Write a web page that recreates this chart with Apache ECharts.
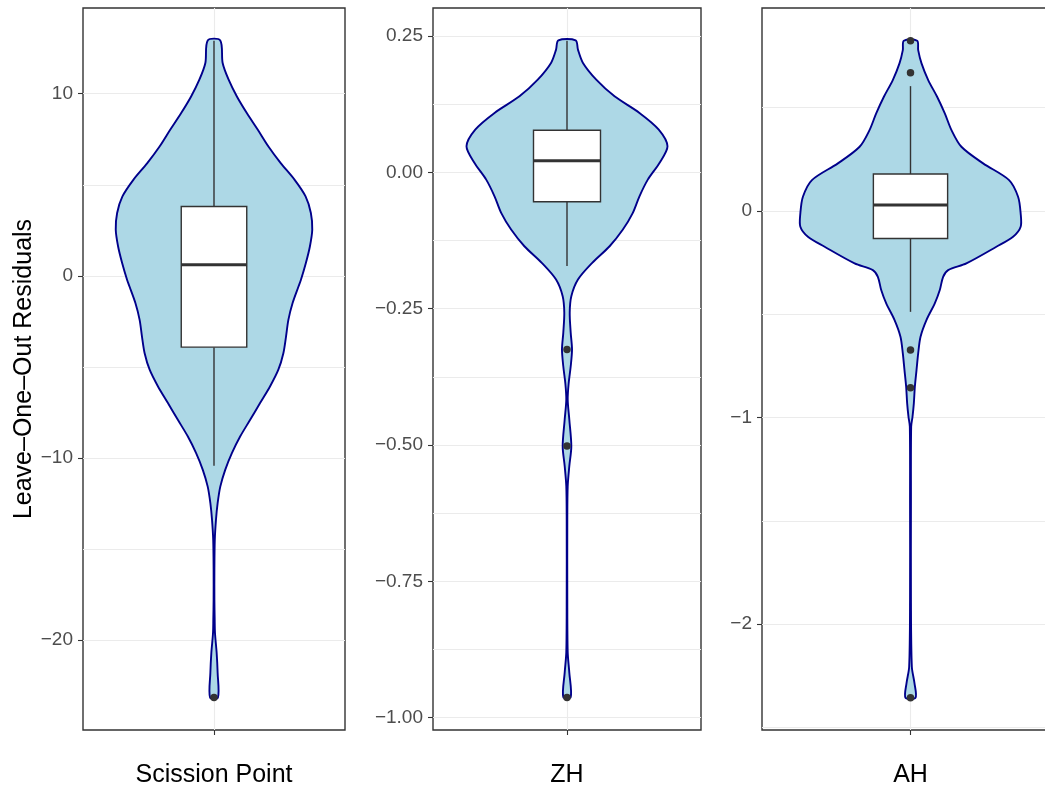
<!DOCTYPE html>
<html>
<head>
<meta charset="utf-8">
<script src="https://cdn.jsdelivr.net/npm/echarts@6/dist/echarts.min.js"></script>
<style>
  html, body { margin: 0; padding: 0; background: #fff; }
  #chart { width: 1045px; height: 786px; }
</style>
</head>
<body>
<div id="chart"></div>
<script>
// categories, one panel each
const categories = ['Scission Point', 'ZH', 'AH'];

// violin outlines: [residual, relative density (max = 1)]
const violinScission = [
  [12.93, 0.064], [11.69, 0.088], [10.77, 0.149], [9.85, 0.233], [8.94, 0.334],
  [8.02, 0.446], [7.10, 0.554], [6.19, 0.679], [5.27, 0.821], [4.36, 0.932],
  [3.45, 0.986], [2.53, 1.0], [1.61, 0.976], [0.70, 0.935], [-0.22, 0.885],
  [-0.59, 0.860], [-1.50, 0.800], [-2.42, 0.757], [-3.34, 0.733], [-4.25, 0.706],
  [-5.16, 0.655], [-6.08, 0.570], [-6.99, 0.469], [-7.91, 0.368], [-8.83, 0.266],
  [-9.74, 0.182], [-10.66, 0.114], [-11.58, 0.064], [-12.49, 0.037], [-13.41, 0.020],
  [-14.51, 0.008], [-16.15, 0.004], [-17.80, 0.004], [-18.90, 0.007], [-19.62, 0.010],
  [-20.71, 0.027], [-21.81, 0.037], [-23.17, 0.040]
];
const violinZH = [
  [0.2419, 0.086], [0.2249, 0.109], [0.2005, 0.159], [0.1699, 0.291], [0.1393, 0.473],
  [0.1089, 0.721], [0.0783, 0.913], [0.0477, 1.0], [0.0172, 0.920], [-0.0134, 0.804],
  [-0.0440, 0.721], [-0.0744, 0.655], [-0.1050, 0.556], [-0.1356, 0.424], [-0.1661, 0.251],
  [-0.1967, 0.109], [-0.2273, 0.043], [-0.2577, 0.027], [-0.2944, 0.037], [-0.3250, 0.050],
  [-0.3556, 0.037], [-0.3860, 0.017], [-0.4166, 0.007], [-0.4533, 0.023], [-0.5022, 0.043],
  [-0.5389, 0.023], [-0.5755, 0.007], [-0.6366, 0.003], [-0.7832, 0.003], [-0.8803, 0.007],
  [-0.9175, 0.023], [-0.9622, 0.037]
];
const violinAH = [
  [0.8224, 0.060], [0.7775, 0.069], [0.7131, 0.099], [0.6324, 0.159], [0.5515, 0.239],
  [0.4712, 0.308], [0.3904, 0.368], [0.3096, 0.457], [0.2293, 0.652], [0.1485, 0.885],
  [0.0677, 0.966], [-0.0126, 0.989], [-0.0774, 0.989], [-0.1258, 0.921], [-0.1742, 0.771],
  [-0.2545, 0.502], [-0.2869, 0.338], [-0.3193, 0.293], [-0.3836, 0.263], [-0.4480, 0.218],
  [-0.5288, 0.143], [-0.6096, 0.090], [-0.6899, 0.069], [-0.7707, 0.054], [-0.8515, 0.039],
  [-0.9318, 0.030], [-0.9966, 0.018], [-1.0450, 0.006], [-1.3996, 0.004], [-1.8834, 0.004],
  [-2.2061, 0.012], [-2.2864, 0.036], [-2.3561, 0.045]
];

// box stats: [lower whisker, q1, median, q3, upper whisker]
const boxScission = [-10.44, -3.92, 0.60, 3.81, 12.91];
const boxZH = [-0.172, -0.054, 0.0214, 0.077, 0.2414];
const boxAH = [-0.489, -0.134, 0.0276, 0.178, 0.603];

// outliers
const outScission = [-23.17];
const outZH = [-0.325, -0.502, -0.963];
const outAH = [0.823, 0.668, -0.674, -0.856, -2.356];

// y ranges and ticks
const yMin = [-24.95, -1.0226, -2.512];
const yMax = [14.71, 0.3013, 0.981];
const majorTicks = [
  [-20, -10, 0, 10],
  [-1, -0.75, -0.5, -0.25, 0, 0.25],
  [-2, -1, 0]
];
const minorTicks = [
  [-15, -5, 5],
  [-0.875, -0.625, -0.375, -0.125, 0.125],
  [-2.5, -1.5, -0.5, 0.5]
];
const labelDigits = [0, 2, 0];

const violins = [violinScission, violinZH, violinAH];
const boxes = [boxScission, boxZH, boxAH];
const outliers = [outScission, outZH, outAH];

const HALF_VIOLIN = 0.45; // violin width 0.9
const HALF_BOX = 0.15;    // box width 0.3

const grids = [
  { left: 83, top: 8, width: 262, height: 722 },
  { left: 433, top: 8, width: 268, height: 722 },
  { left: 762, top: 8, width: 297, height: 722 }
];

function violinRender(profile) {
  return function (params, api) {
    if (params.dataIndex !== 0) return;
    let left = [], right = [];
    profile.forEach(p => {
      left.push(api.coord([-HALF_VIOLIN * p[1], p[0]]));
      right.push(api.coord([HALF_VIOLIN * p[1], p[0]]));
    });
    // left side down, then right side back up
    return {
      type: 'polygon',
      shape: { points: left.concat(right.slice().reverse()), smooth: 0.3 },
      style: { fill: '#ADD8E6', stroke: '#00008B', lineWidth: 1.9 }
    };
  };
}

function boxRender(params, api) {
  const lo = api.value(0), q1 = api.value(1), med = api.value(2), q3 = api.value(3), hi = api.value(4);
  const pLo = api.coord([0, lo]), pHi = api.coord([0, hi]);
  const a = api.coord([-HALF_BOX, q3]), b = api.coord([HALF_BOX, q1]);
  const m1 = api.coord([-HALF_BOX, med]), m2 = api.coord([HALF_BOX, med]);
  const line = { stroke: '#333333', lineWidth: 1.4 };
  return {
    type: 'group',
    children: [
      { type: 'line', shape: { x1: pHi[0], y1: pHi[1], x2: pHi[0], y2: a[1] }, style: line },
      { type: 'line', shape: { x1: pLo[0], y1: b[1], x2: pLo[0], y2: pLo[1] }, style: line },
      { type: 'rect', shape: { x: a[0], y: a[1], width: b[0] - a[0], height: b[1] - a[1] },
        style: { fill: '#ffffff', stroke: '#333333', lineWidth: 1.4 } },
      { type: 'line', shape: { x1: m1[0], y1: m1[1], x2: m2[0], y2: m2[1] },
        style: { stroke: '#333333', lineWidth: 3 } }
    ]
  };
}

function fmt(v, d) {
  return v.toFixed(d).replace('-', '\u2212');
}

const gridLine = { color: '#EBEBEB', width: 1.1 };

let xAxisArr = [], yAxisArr = [], seriesArr = [];
categories.forEach((cat, i) => {
  xAxisArr.push({
    gridIndex: i, type: 'value', min: -0.6, max: 0.6, position: 'bottom',
    axisLine: { show: false, onZero: false },
    axisTick: { show: true, length: 5, customValues: [0], lineStyle: { color: '#333333', width: 1.1 } },
    axisLabel: { show: true, customValues: [0], margin: 33, formatter: () => cat,
      color: '#000000', fontSize: 25, fontFamily: 'Liberation Sans' },
    splitLine: { show: true, lineStyle: gridLine }
  });
  // major axis with labels
  yAxisArr.push({
    gridIndex: i, type: 'value', min: yMin[i], max: yMax[i], position: 'left',
    axisLine: { show: false, onZero: false },
    axisTick: { show: true, length: 5, customValues: majorTicks[i], lineStyle: { color: '#333333', width: 1.1 } },
    axisLabel: { show: true, customValues: majorTicks[i], margin: 10,
      formatter: v => fmt(v, labelDigits[i]),
      color: '#4D4D4D', fontSize: 19, fontFamily: 'Liberation Sans' },
    splitLine: { show: true, lineStyle: gridLine },
    name: i === 0 ? 'Leave\u2013One\u2013Out Residuals' : '',
    nameLocation: 'middle', nameRotate: 90, nameGap: 46,
    nameTextStyle: { color: '#000000', fontSize: 25, fontFamily: 'Liberation Sans' }
  });
  // minor grid lines only
  yAxisArr.push({
    gridIndex: i, type: 'value', min: yMin[i], max: yMax[i], position: 'left',
    axisLine: { show: false, onZero: false },
    axisTick: { show: false, customValues: minorTicks[i] },
    axisLabel: { show: false },
    splitLine: { show: true, lineStyle: gridLine }
  });

  seriesArr.push({
    type: 'custom', xAxisIndex: i, yAxisIndex: 2 * i,
    renderItem: violinRender(violins[i]),
    data: violins[i], z: 2, silent: true
  });
  seriesArr.push({
    type: 'custom', xAxisIndex: i, yAxisIndex: 2 * i,
    renderItem: boxRender,
    data: [boxes[i]], z: 3, silent: true
  });
  seriesArr.push({
    type: 'scatter', xAxisIndex: i, yAxisIndex: 2 * i,
    data: outliers[i].map(v => [0, v]),
    symbolSize: 7.5, itemStyle: { color: '#333333', opacity: 1 }, z: 4, silent: true
  });
});

const chart = echarts.init(document.getElementById('chart'), null, { renderer: 'canvas' });
chart.setOption({
  animation: false,
  backgroundColor: '#ffffff',
  grid: grids.map(g => Object.assign({ show: true, borderColor: '#333333', borderWidth: 1.4,
    backgroundColor: 'transparent', containLabel: false, outerBoundsMode: 'none' }, g)),
  xAxis: xAxisArr,
  yAxis: yAxisArr,
  series: seriesArr
});
</script>
</body>
</html>
